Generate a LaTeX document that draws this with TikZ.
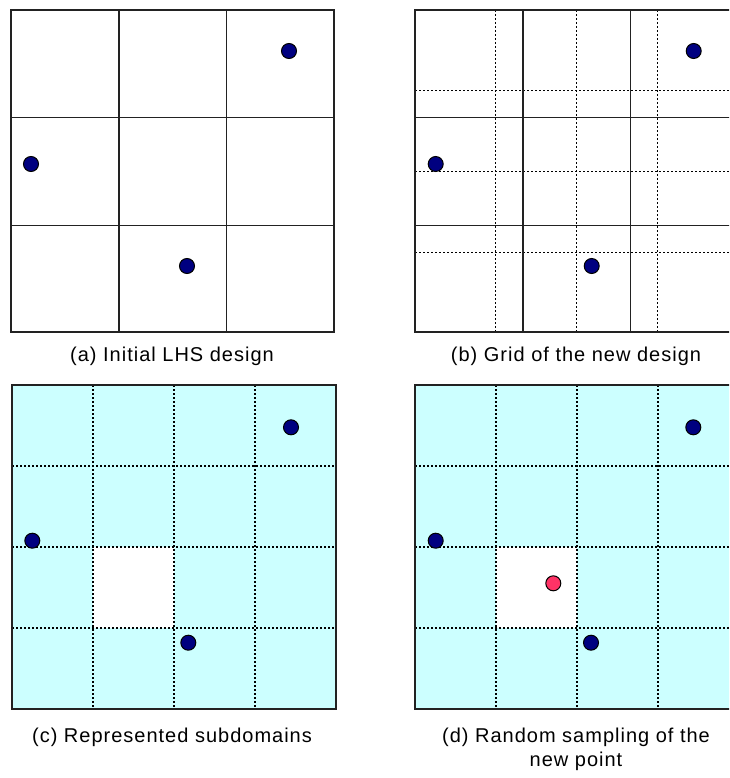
\documentclass[tikz,border=0pt]{standalone}
\usepackage{fontspec}
\setmainfont{Liberation Sans}[LetterSpace=5]
\definecolor{cyanbg}{HTML}{CCFFFF}
\definecolor{navydot}{HTML}{000080}
\definecolor{reddot}{HTML}{FF3366}
\definecolor{gridline}{HTML}{222222}
\begin{document}
\begin{tikzpicture}[x=1pt,y=-1pt,
  frame/.style={draw=gridline,line width=1.6pt},
  solidline/.style={draw=gridline,line width=1.6pt},
  dotline/.style={draw=black,line width=1.3pt,dash pattern=on 2pt off 2pt},
  dot/.style={circle,draw=black,fill=navydot,line width=1pt,minimum size=15pt,inner sep=0pt},
  newdot/.style={circle,draw=black,fill=reddot,line width=1pt,minimum size=15pt,inner sep=0pt},
  caption/.style={font=\fontsize{20}{24}\selectfont,align=center,text=black,inner sep=0pt}]
\useasboundingbox (0,0) rectangle (729,778);
\clip (0,0) rectangle (729,778);
\fill[white] (0,0) rectangle (729,778);
% ---------- (a)
\begin{scope}[shift={(11,10)}]
  \draw[frame] (0,0) rectangle (323,322);
  \foreach \v in {107.7,215.3}{
    \draw[solidline] (\v,0) -- (\v,322);
    \draw[solidline] (0,\v) -- (323,\v);}
  \node[dot] (a1) at (278,41) {};
  \node[dot] (a2) at (20,154) {};
  \node[dot] (a3) at (176,256) {};
\end{scope}
\node[caption] (capa) at (172,356) {(a) Initial LHS design};
% ---------- (b)
\begin{scope}[shift={(415,10)}]
  \foreach \v in {80.75,161.5,242.25}{
    \draw[dotline] (\v,0) -- (\v,322);
    \draw[dotline] (0,\v) -- (323,\v);}
  \foreach \v in {107.7,215.3}{
    \draw[solidline] (\v,0) -- (\v,322);
    \draw[solidline] (0,\v) -- (323,\v);}
  \draw[frame] (0,0) rectangle (323,322);
  \node[dot] (b1) at (278.7,41) {};
  \node[dot] (b2) at (20.7,154) {};
  \node[dot] (b3) at (176.7,256) {};
\end{scope}
\node[caption] (capb) at (576,356) {(b) Grid of the new design};
% ---------- (c)
\begin{scope}[shift={(12,385)}]
  \fill[cyanbg] (0,0) rectangle (324,324);
  \fill[white] (81,162) rectangle (162,243);
  \foreach \v in {81,162,243}{
    \draw[dotline] (\v,0) -- (\v,324);
    \draw[dotline] (0,\v) -- (324,\v);}
  \draw[frame] (0,0) rectangle (324,324);
  \node[dot] (c1) at (279,42.3) {};
  \node[dot] (c2) at (20.3,155.7) {};
  \node[dot] (c3) at (176.3,257.7) {};
\end{scope}
\node[caption] (capc) at (172,737) {(c) Represented subdomains};
% ---------- (d)
\begin{scope}[shift={(415,385)}]
  \fill[cyanbg] (0,0) rectangle (324,324);
  \fill[white] (81,162) rectangle (162,243);
  \foreach \v in {81,162,243}{
    \draw[dotline] (\v,0) -- (\v,324);
    \draw[dotline] (0,\v) -- (324,\v);}
  \draw[frame] (0,0) rectangle (324,324);
  \node[dot] (d1) at (278.3,42.3) {};
  \node[dot] (d2) at (20.7,155.7) {};
  \node[dot] (d3) at (176,257.7) {};
  \node[newdot] (d4) at (138.3,198.3) {};
\end{scope}
\node[caption] (capd) at (576,749) {(d) Random sampling of the\\new point};
\end{tikzpicture}
\end{document}
